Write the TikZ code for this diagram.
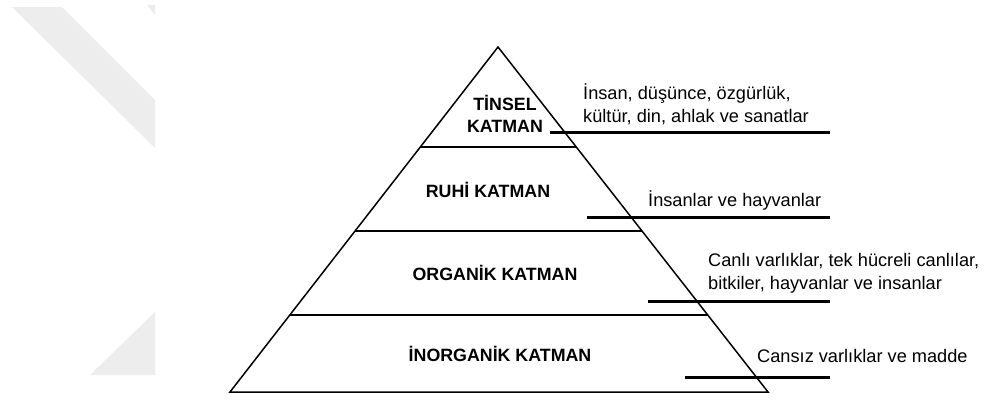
\documentclass[tikz,border=0pt]{standalone}
\usepackage{fontspec}
\setmainfont{Liberation Sans}
\usetikzlibrary{calc}
\begin{document}
\begin{tikzpicture}[x=1pt,y=-1pt,
  layer/.style={font=\bfseries\fontsize{17.8}{22}\selectfont, align=center, inner sep=0pt},
  note/.style={font=\fontsize{18.2}{23}\selectfont, align=left, anchor=west, inner sep=0pt},
  edge/.style={line width=1.5pt, line join=miter},
  leader/.style={line width=3pt}]
\useasboundingbox (0,0) rectangle (984,399);
% faint background mark
\fill[black!7] (12,7) -- (62,7) -- (155,100) -- (155,148) -- cycle;
\fill[black!7] (147,5) -- (155,5) -- (155,15) -- cycle;
\fill[black!7] (155,312) -- (90,375) -- (155,375) -- cycle;
% pyramid
\coordinate (apex) at (498,47);
\coordinate (bl) at (230,392);
\coordinate (br) at (768,392);
\draw[edge] (apex) -- (bl) -- (br) -- cycle;
% layer boundaries
\coordinate (l1a) at ($(apex)!100/345!(bl)$);
\coordinate (l1b) at ($(apex)!100/345!(br)$);
\coordinate (l2a) at ($(apex)!184/345!(bl)$);
\coordinate (l2b) at ($(apex)!184/345!(br)$);
\coordinate (l3a) at ($(apex)!268/345!(bl)$);
\coordinate (l3b) at ($(apex)!268/345!(br)$);
\draw[edge] (l1a) -- (l1b);
\draw[edge] (l2a) -- (l2b);
\draw[edge] (l3a) -- (l3b);
% layer names
\node[layer] (tinsel) at (505,114) {TİNSEL\\KATMAN};
\node[layer] (ruhi) at (488,190) {RUHİ KATMAN};
\node[layer] (organik) at (495,273) {ORGANİK KATMAN};
\node[layer] (inorganik) at (500,354) {İNORGANİK KATMAN};
% descriptions
\node[note] (d1) at (583,104) {İnsan, düşünce, özgürlük,\\kültür, din, ahlak ve sanatlar};
\node[note] (d2) at (648,200) {İnsanlar ve hayvanlar};
\node[note] (d3) at (708,273) {Canlı varlıklar, tek hücreli canlılar,\\bitkiler, hayvanlar ve insanlar};
\node[note] (d4) at (757,356) {Cansız varlıklar ve madde};
% leader lines
\coordinate (r1a) at (550,132); \coordinate (r1b) at (830,132);
\coordinate (r2a) at (587,217); \coordinate (r2b) at (830,217);
\coordinate (r3a) at (648,301); \coordinate (r3b) at (830,301);
\coordinate (r4a) at (685,377); \coordinate (r4b) at (830,377);
\draw[leader] (r1a) -- (r1b);
\draw[leader] (r2a) -- (r2b);
\draw[leader] (r3a) -- (r3b);
\draw[leader] (r4a) -- (r4b);
\end{tikzpicture}
\end{document}
